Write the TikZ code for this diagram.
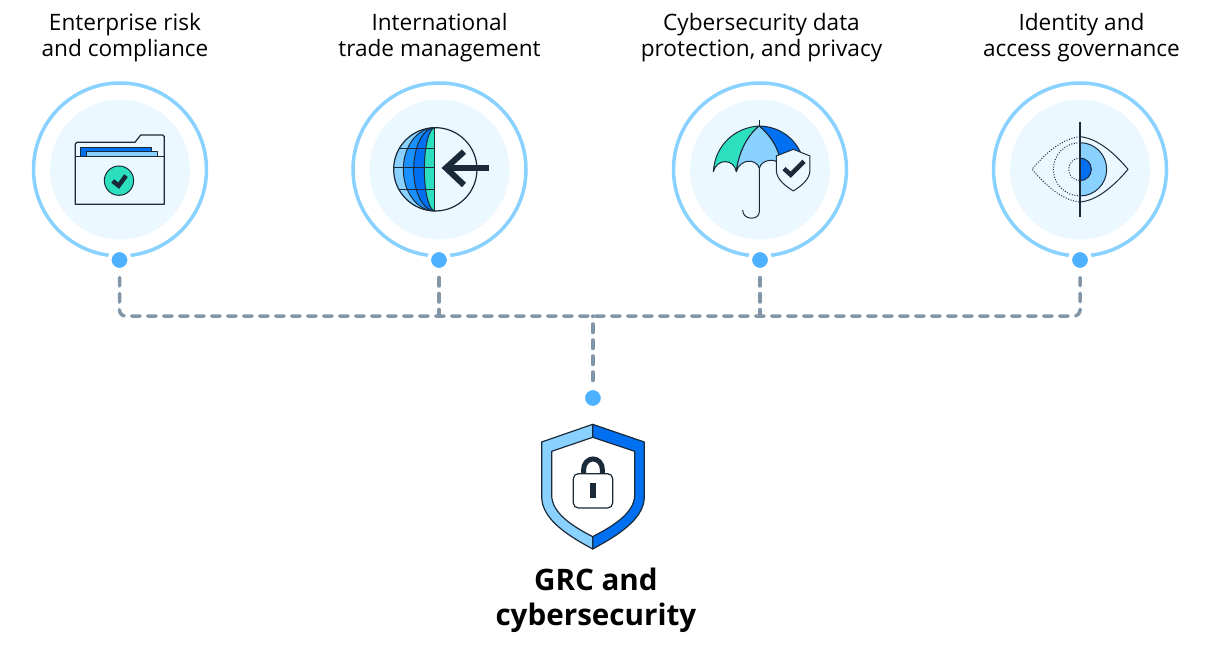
\documentclass[tikz,border=0pt]{standalone}
\usepackage{fontspec}
\setmainfont{Open Sans}
\usetikzlibrary{positioning}
\definecolor{ringblue}{HTML}{89D1FF}
\definecolor{pale}{HTML}{EBF8FF}
\definecolor{dotblue}{HTML}{4DB1FF}
\definecolor{midblue}{HTML}{1B90FF}
\definecolor{deepblue}{HTML}{0070F2}
\definecolor{teal}{HTML}{2CE0BF}
\definecolor{ink}{HTML}{1B2A38}
\definecolor{busgrey}{HTML}{8396A8}
\tikzset{
  ring/.style  ={circle, draw=ringblue, line width=3.5pt, minimum size=173pt, inner sep=0pt, outer sep=0pt},
  disc/.style  ={circle, fill=pale, minimum size=140pt, inner sep=0pt, outer sep=0pt},
  dot/.style   ={circle, draw=white, line width=4pt, fill=dotblue, minimum size=20pt, inner sep=0pt, outer sep=0pt},
  lab/.style   ={align=center, inner sep=0pt, font=\fontsize{22.6}{26}\selectfont},
  biglab/.style={align=center, inner sep=0pt, font=\fontsize{29.6}{35}\selectfont\bfseries},
  bus/.style   ={draw=busgrey, line width=3.5pt, line cap=round, dash pattern=on 8.5pt off 7.5pt},
  icon/.style  ={draw=ink, line width=1.2pt, line join=round},
  thin/.style  ={draw=ink, line width=1pt, line join=round},
  tick/.style  ={draw=ink, line width=4.5pt, line join=miter},
  dots/.style  ={draw=ink, line width=1pt, dash pattern=on 1pt off 1.6pt}
}

\begin{document}
\begin{tikzpicture}[x=1pt,y=-1pt]
  \useasboundingbox (0,0) rectangle (1206,663);

  \node[ring](ringrisk) at (120,169.5){};
  \node[ring](ringtrade) at (439.5,169.5){};
  \node[ring](ringcyber) at (760,169.5){};
  \node[ring](ringident) at (1080,169.5){};
  \node[disc](discrisk) at (ringrisk){};
  \node[disc](disctrade) at (ringtrade){};
  \node[disc](disccyber) at (ringcyber){};
  \node[disc](discident) at (ringident){};

  \node[lab, above=20.5pt of ringrisk, xshift=5pt](labrisk){Enterprise risk\\and compliance};
  \node[lab, above=20.5pt of ringtrade](labtrade){International\\trade management};
  \node[lab, above=20.5pt of ringcyber, xshift=1.5pt](labcyber){Cybersecurity data\\protection, and privacy};
  \node[lab, above=20.5pt of ringident, xshift=1.5pt](labident){Identity and\\access governance};

  \node[dot](dotrisk) at (119.5,260){};
  \node[dot](dottrade) at (439,260){};
  \node[dot](dotcyber) at (760,260){};
  \node[dot](dotident) at (1080,260){};
  \node[dot](dotgrc) at (592.9,398){};
  \coordinate (busline) at (592.9,316);

  % dashed bus
  \draw[bus, rounded corners=6pt, shorten <=7.5pt, shorten >=7.5pt]
    (dotrisk) -- (dotrisk |- busline) -- (dotident |- busline) -- (dotident);
  \draw[bus, shorten <=7.5pt](dottrade) -- (dottrade |- busline);
  \draw[bus, shorten <=7.5pt](dotcyber) -- (dotcyber |- busline);
  \draw[bus, shorten <=7.5pt](dotgrc) -- (dotgrc |- busline);

  % folder
  \begin{scope}[shift={(20,70)},scale=0.3333]
    \path[icon, fill=pale] (166,403) -- (166,222) -- (171,217) -- (345,217) -- (362,195) -- (428,195) -- (433,200) -- (433,403) -- cycle;
    \path[thin, fill=deepblue] (182,260) -- (182,232) -- (396,232) -- (396,260) -- cycle;
    \path[thin, fill=ringblue] (199,260) -- (199,244) -- (413,244) -- (413,260) -- cycle;
    \draw[icon] (166,260) -- (433,260);
    \draw[thin, fill=teal] (297,332) circle (44);
    \draw[tick] (278,333) -- (296,347) -- (318,317);
  \end{scope}

  % globe
  \begin{scope}[shift={(340,70)},scale=0.3333]
    \path[fill=ringblue] (285,173) arc (-90:-270:125);
    \path[thin, fill=midblue] (285,173) arc (-90:-270:95 and 125);
    \path[thin, fill=deepblue] (285,173) arc (-90:-270:64 and 125);
    \path[thin, fill=teal] (285,173) arc (-90:-270:32 and 125);
    \draw[thin] (177,235) -- (285,235);
    \draw[thin] (160,293) -- (285,293);
    \draw[thin] (177,360) -- (285,360);
    \draw[thin] (285,173) -- (285,423);
    \draw[icon] (286,298) circle (125);
    \draw[ink, line width=6pt] (447,294) -- (315,294);
    \draw[ink, line width=6pt] (372,245) -- (318,294) -- (372,345);
  \end{scope}

  % umbrella
  \begin{scope}[shift={(660,70)},scale=0.3333]
    \draw[thin] (298,168) -- (298,150);
    \path[thin, fill=teal] (160,305) .. controls (165,225) and (225,172) .. (298,168)
      .. controls (262,195) and (235,250) .. (229,305)
      .. controls (222,265) and (170,265) .. (160,305) -- cycle;
    \path[thin, fill=ringblue] (298,168) .. controls (262,195) and (235,250) .. (229,305)
      .. controls (240,265) and (290,265) .. (298,295)
      .. controls (305,268) and (340,268) .. (350,275)
      -- (358,258) .. controls (350,225) and (325,190) .. (298,168) -- cycle;
    \path[thin, fill=deepblue] (298,168) .. controls (360,170) and (405,205) .. (425,255)
      -- (358,258) .. controls (350,225) and (325,190) .. (298,168) -- cycle;
    \draw[thin] (298,295) -- (298,425) .. controls (298,452) and (248,452) .. (248,420);
    \path[thin, fill=pale] (400,238) -- (450,258) -- (450,300) .. controls (450,330) and (420,350) .. (400,363)
      .. controls (380,350) and (349,330) .. (349,300) -- (349,258) -- cycle;
    \draw[tick] (372,296) -- (392,314) -- (432,274);
  \end{scope}

  % eye
  \begin{scope}[shift={(980,70)},scale=0.3333]
    \path[thin, fill=ringblue] (300,218) arc (-90:90:80) -- cycle;
    \path[thin, fill=deepblue] (300,264) arc (-90:90:34) -- cycle;
    \draw[thin] (300,200) .. controls (350,205) and (400,245) .. (444,298)
      .. controls (400,350) and (350,392) .. (300,396);
    \draw[dots] (300,200) .. controls (250,205) and (200,245) .. (156,298)
      .. controls (200,350) and (250,392) .. (300,396);
    \draw[dots] (300,218) arc (-90:-270:80);
    \draw[dots] (300,264) arc (-90:-270:34);
    \draw[icon] (300,155) -- (300,440);
  \end{scope}

  % shield
  \begin{scope}[shift={(520,380)},scale=0.3333]
    \path[icon, fill=ringblue] (218,133) -- (65,186) -- (65,350) .. controls (65,420) and (150,470) .. (218,507)
      -- (218,470) .. controls (160,440) and (95,400) .. (95,345) -- (95,214) -- (218,172) -- cycle;
    \path[icon, fill=deepblue] (218,133) -- (373,186) -- (373,350) .. controls (373,420) and (286,470) .. (218,507)
      -- (218,470) .. controls (276,440) and (344,400) .. (344,345) -- (344,214) -- (218,172) -- cycle;
    \draw[ink, line width=5pt] (191,282) -- (191,270) .. controls (191,226) and (247,226) .. (247,270) -- (247,282);
    \draw[icon, fill=white, rounded corners=5pt] (160,281) rectangle (278,384);
    \path[fill=ink] (210,310) rectangle (228,353);
  \end{scope}

  \node[biglab, below=160pt of dotgrc, xshift=3pt](labgrc){GRC and\\cybersecurity};
\end{tikzpicture}
\end{document}
